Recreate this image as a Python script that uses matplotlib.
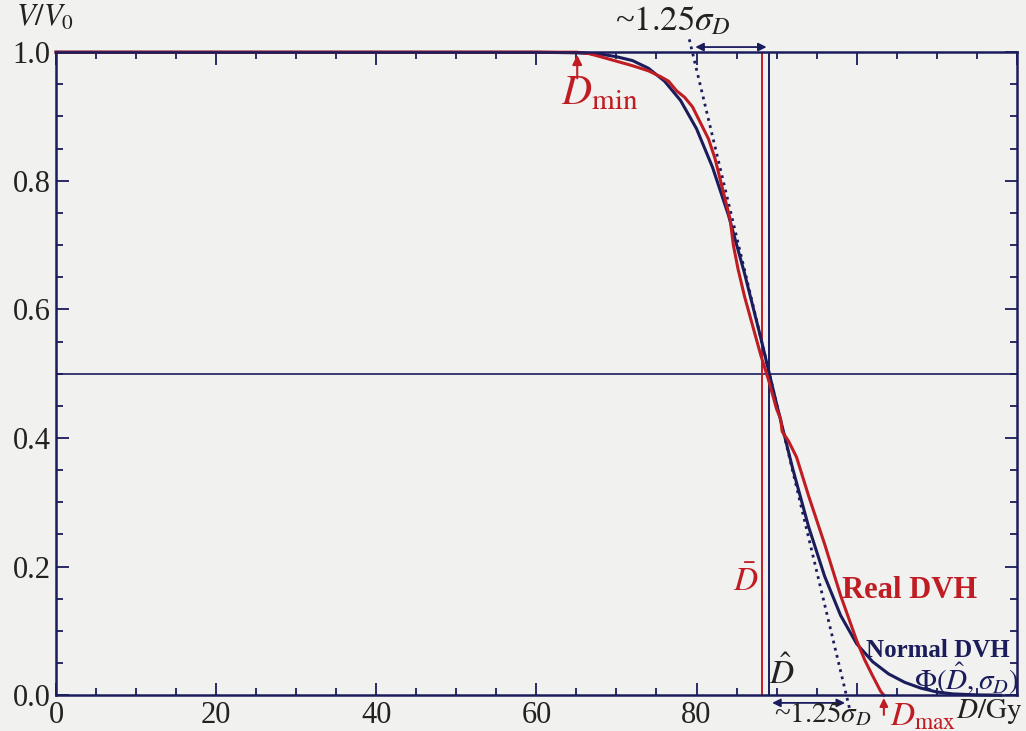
import numpy as np
import matplotlib.pyplot as plt
from matplotlib.ticker import MultipleLocator, FixedLocator, FixedFormatter

plt.rcParams['font.family'] = ['Liberation Serif', 'DejaVu Serif']
plt.rcParams['mathtext.fontset'] = 'stix'

# ---------------- data ----------------
# normal DVH  Phi(D_hat, sigma_D)
dose_norm = [0, 60, 65, 68, 70, 72, 74, 76, 78, 80, 82, 84, 86, 88, 90, 92, 94,
             96, 98, 100, 102, 104, 106, 108, 110, 112, 115, 118]
vol_norm = [1.0, 1.0, 0.999, 0.997, 0.993, 0.987, 0.975, 0.955, 0.925, 0.881,
            0.821, 0.746, 0.656, 0.557, 0.453, 0.353, 0.262, 0.185, 0.124,
            0.080, 0.052, 0.033, 0.020, 0.011, 0.005, 0.002, 0.0005, 0.0]

# real DVH
dose_real = [0, 65, 66.5, 68, 70, 72, 74, 75.5, 76.5, 77.5, 78.5, 79.5, 80.5,
             81.5, 82.3, 83, 84.2, 84.6, 85.2, 86, 87, 88, 89, 90, 90.5, 90.7,
             91.5, 92.5, 94, 96, 98, 99, 100, 101, 102, 103, 103.4]
vol_real = [1.0, 1.0, 0.998, 0.993, 0.986, 0.979, 0.971, 0.962, 0.955, 0.94,
            0.93, 0.915, 0.89, 0.865, 0.835, 0.80, 0.74, 0.70, 0.662, 0.62,
            0.575, 0.53, 0.49, 0.445, 0.43, 0.41, 0.395, 0.37, 0.31, 0.235,
            0.155, 0.12, 0.085, 0.055, 0.03, 0.006, 0.0]

d_mean = 88.2     # D bar
d_hat = 89.1      # D hat
d_min = 65.1
d_max = 103.4
tangent_d = [79.1, 99.1]
tangent_v = [1.02, -0.02]

red = '#c01c24'
navy = '#1b1c5c'

fig = plt.figure(figsize=(10.26, 7.31), dpi=100)
fig.patch.set_facecolor('#f1f2ef')
ax = fig.add_axes([0.0546, 0.049, 0.9364, 0.8796])
ax.set_facecolor('#f1f2ef')

ax.axhline(0.5, color=navy, lw=1.2)
ax.axvline(d_mean, color=red, lw=1.4)
ax.axvline(d_hat, color=navy, lw=1.4)
ax.plot(tangent_d, tangent_v, color=navy, ls=':', lw=2, clip_on=False)
ax.plot(dose_norm, vol_norm, color=navy, lw=2.2, clip_on=False)
ax.plot(dose_real, vol_real, color=red, lw=2.2, clip_on=False)

ax.set_xlim(0, 120)
ax.set_ylim(0, 1)

for s in ax.spines.values():
    s.set_color(navy)
    s.set_linewidth(1.8)

ax.xaxis.set_major_locator(FixedLocator([0, 20, 40, 60, 80, 100, 120]))
ax.xaxis.set_major_formatter(FixedFormatter(['0', '20', '40', '60', '80', '', '']))
ax.xaxis.set_minor_locator(MultipleLocator(5))
ax.yaxis.set_major_locator(MultipleLocator(0.2))
ax.yaxis.set_minor_locator(MultipleLocator(0.05))
ax.yaxis.set_major_formatter(plt.FuncFormatter(lambda v, p: '%.1f' % v))
ax.tick_params(which='both', direction='in', top=True, right=True, color=navy,
               width=1.3, labelsize=22, labelcolor='#222222')
ax.tick_params(which='major', length=9)
ax.tick_params(which='minor', length=5)
ax.tick_params(axis='y', pad=4)
ax.tick_params(axis='x', pad=4)

# annotations
ax.text(-1.4, 1.053, r'$V/V_0$', fontsize=22, ha='center', va='center', color='#222222')
ax.annotate('', xy=(d_min, 1.0), xytext=(d_min, 0.955),
            arrowprops=dict(arrowstyle='-|>', color=red, lw=1.5, mutation_scale=14))
ax.text(67.9, 0.935, r'$D_{\rm min}$', color=red, fontsize=30, ha='center', va='center')

ax.annotate('', xy=(79.5, 1.008), xytext=(d_hat, 1.008),
            arrowprops=dict(arrowstyle='<|-|>', color=navy, lw=1.3, mutation_scale=12),
            annotation_clip=False)
ax.text(77.0, 1.047, r'~$1.25\sigma_D$', fontsize=25, ha='center', va='center',
        color='#222222', clip_on=False)

ax.annotate('', xy=(d_hat, -0.012), xytext=(98.9, -0.012),
            arrowprops=dict(arrowstyle='<|-|>', color=navy, lw=1.3, mutation_scale=12),
            annotation_clip=False)
ax.text(95.8, -0.03, r'~$1.25\sigma_D$', fontsize=21, ha='center', va='center',
        color='#222222', clip_on=False)

ax.annotate('', xy=(d_max, 0.0), xytext=(d_max, -0.035),
            arrowprops=dict(arrowstyle='-|>', color=red, lw=1.5, mutation_scale=12),
            annotation_clip=False)
ax.text(108.3, -0.035, r'$D_{\rm max}$', color=red, fontsize=24, ha='center', va='center',
        clip_on=False)
ax.text(116.6, -0.025, r'$D/\mathrm{Gy}$', fontsize=21, ha='center', va='center',
        color='#222222', clip_on=False)

ax.text(86.1, 0.176, r'$\bar{D}$', color=red, fontsize=24, ha='center', va='center')
ax.text(90.6, 0.035, r'$\hat{D}$', color='#222222', fontsize=24, ha='center', va='center')
ax.text(106.6, 0.163, 'Real DVH', color=red, fontsize=22, fontweight='bold',
        ha='center', va='center')
ax.text(110.1, 0.07, 'Normal DVH', color=navy, fontsize=18, fontweight='bold',
        ha='center', va='center')
ax.text(113.7, 0.025, r'$\Phi(\hat{D},\sigma_D)$', color=navy, fontsize=21,
        ha='center', va='center')

fig.savefig('out.png', dpi=100, facecolor=fig.get_facecolor())
